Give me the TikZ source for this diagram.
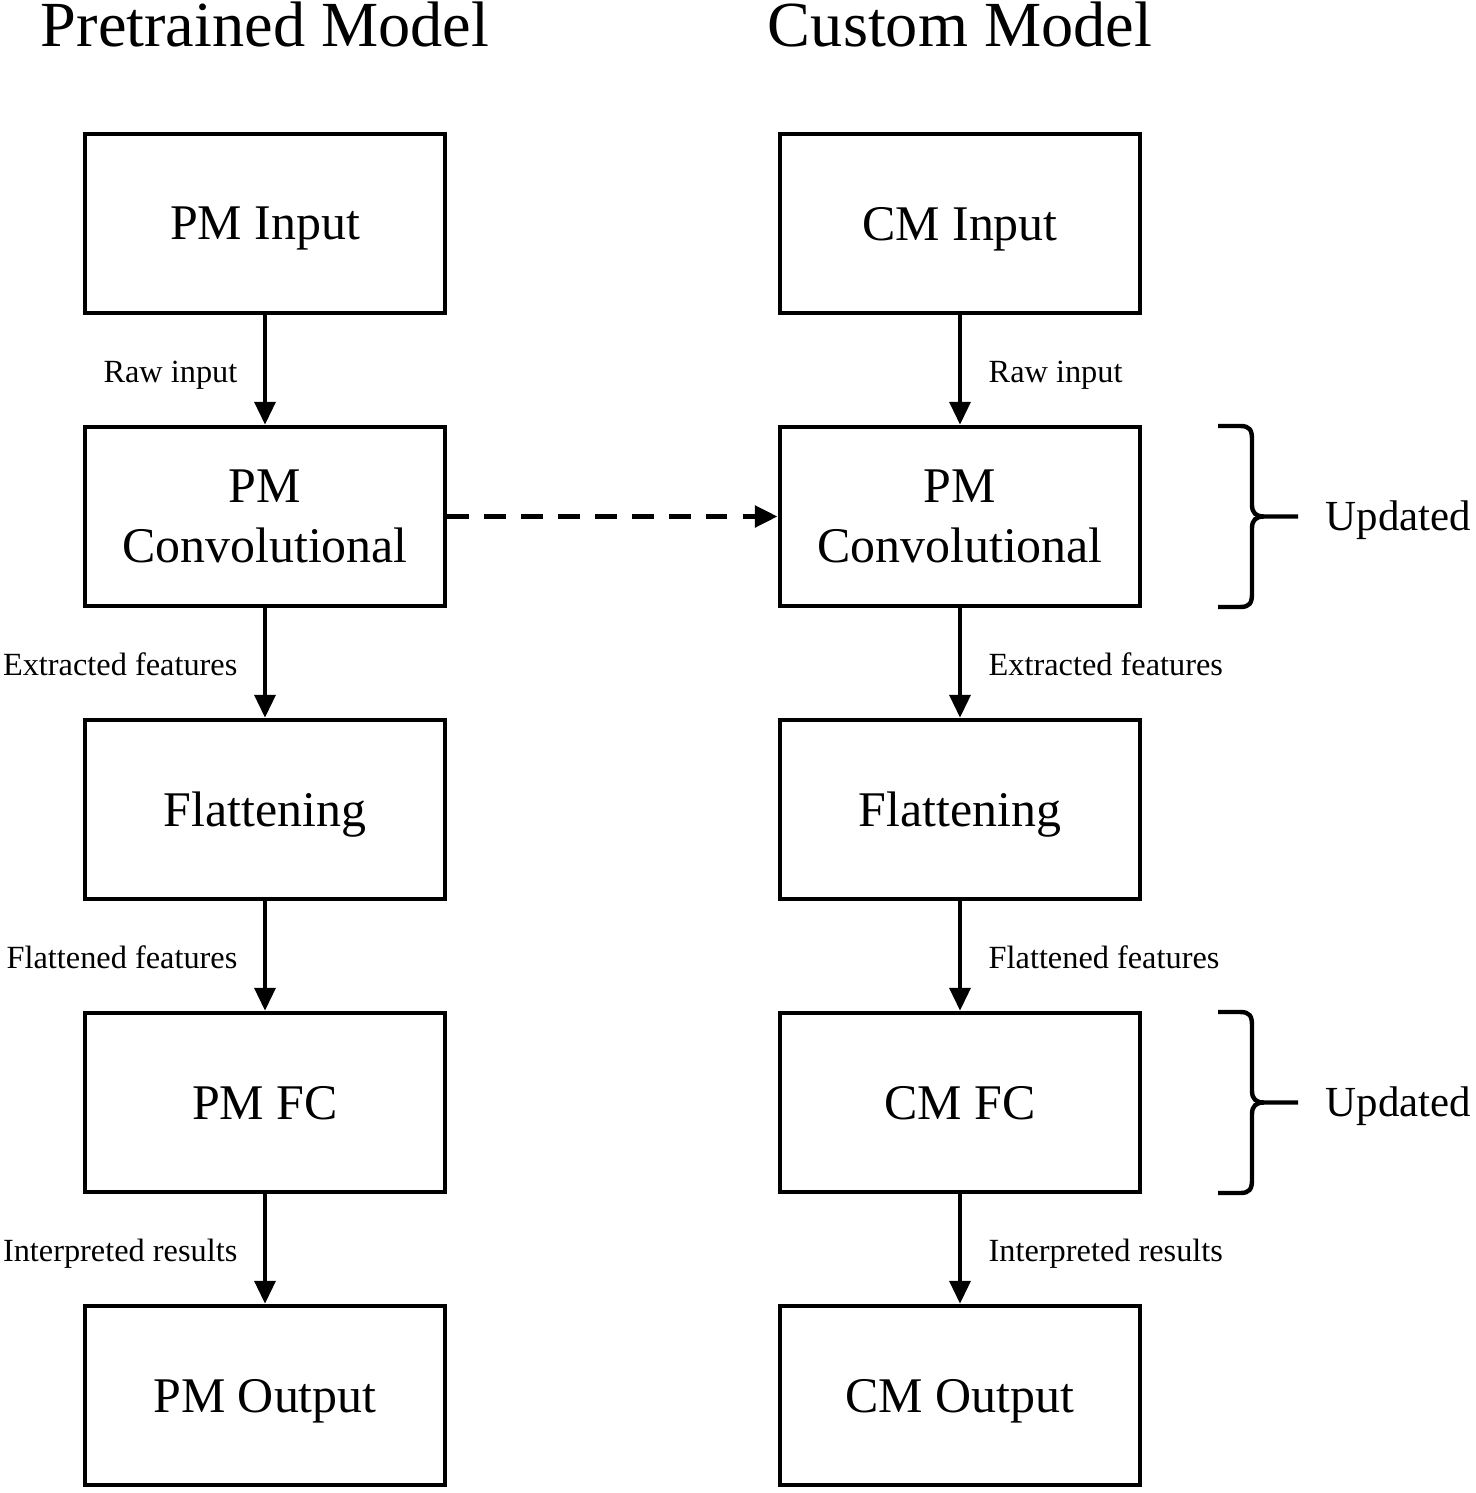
\documentclass[tikz,border=0pt]{standalone}
\usepackage{fontspec}
\setmainfont{Liberation Serif}
\usetikzlibrary{arrows.meta,positioning}

\tikzset{
  block/.style={rectangle, draw, line width=1.35pt, minimum width=3.60cm, minimum height=1.79cm, align=center, inner sep=0pt, text depth=0pt, font=\fontsize{14.2}{17}\selectfont},
  title/.style={anchor=base, inner sep=0pt, font=\fontsize{18.3}{22}\selectfont},
  flow/.style={-{Triangle[length=6.5pt,width=6pt]}, line width=0.95pt},
  copyflow/.style={-{Triangle[length=6.5pt,width=6pt]}, line width=1.5pt, dash pattern=on 6.2pt off 4.3pt},
  llbl/.style={anchor=base east, inner sep=0pt, xshift=-0.26cm, yshift=-0.12cm, font=\fontsize{9.2}{11}\selectfont},
  rlbl/.style={anchor=base west, inner sep=0pt, xshift=0.27cm, yshift=-0.12cm, font=\fontsize{9.2}{11}\selectfont},
  brace/.style={line width=1.25pt},
  note/.style={anchor=base west, inner sep=0pt, font=\fontsize{12.2}{15}\selectfont}
}

\begin{document}
\begin{tikzpicture}
        \useasboundingbox (0,0) rectangle (14.76,-14.93);

        % Titles
        \node[title] at (2.65,-0.47) (ptitle) {Pretrained Model};
        \node[title] at (9.60,-0.47) (ctitle) {Custom Model};

        % Pretrained model blocks
        \node[block] at (2.65,-2.235) (pin) {PM Input};
        \node[block] at (2.65,-5.165) (pconv) {PM\\Convolutional};
        \node[block] at (2.65,-8.095) (pflat) {Flattening};
        \node[block] at (2.65,-11.025) (pfc) {PM FC};
        \node[block] at (2.65,-13.955) (pout) {PM Output};

        % Custom model blocks
        \node[block] at (9.60,-2.235) (cin) {CM Input};
        \node[block] at (9.60,-5.165) (cconv) {PM\\Convolutional};
        \node[block] at (9.60,-8.095) (cflat) {Flattening};
        \node[block] at (9.60,-11.025) (cfc) {CM FC};
        \node[block] at (9.60,-13.955) (cout) {CM Output};

        % Arrows
        \draw[flow] (pin) -- node[llbl] (praw) {Raw input} (pconv);
        \draw[flow] (pconv) -- node[llbl] (pext) {Extracted features} (pflat);
        \draw[flow] (pflat) -- node[llbl] (pfeat) {Flattened features} (pfc);
        \draw[flow] (pfc) -- node[llbl] (pres) {Interpreted results} (pout);

        \draw[flow] (cin) -- node[rlbl] (craw) {Raw input} (cconv);
        \draw[flow] (cconv) -- node[rlbl] (cext) {Extracted features} (cflat);
        \draw[flow] (cflat) -- node[rlbl] (cfeat) {Flattened features} (cfc);
        \draw[flow] (cfc) -- node[rlbl] (cres) {Interpreted results} (cout);

        \draw[copyflow] (pconv) -- (cconv);

        % Braces
        \draw[brace] (12.18,-4.26) -- (12.40,-4.26) .. controls (12.50,-4.26) and (12.52,-4.30) .. (12.52,-4.40)
            -- (12.52,-5.05) .. controls (12.52,-5.13) and (12.56,-5.165) .. (12.64,-5.165) -- (12.98,-5.165);
        \draw[brace] (12.64,-5.165) .. controls (12.56,-5.165) and (12.52,-5.20) .. (12.52,-5.28)
            -- (12.52,-5.93) .. controls (12.52,-6.03) and (12.50,-6.07) .. (12.40,-6.07) -- (12.18,-6.07);
        \node[note] at (13.25,-5.30) (cupd) {Updated};

        \draw[brace] (12.18,-10.12) -- (12.40,-10.12) .. controls (12.50,-10.12) and (12.52,-10.16) .. (12.52,-10.26)
            -- (12.52,-10.91) .. controls (12.52,-10.99) and (12.56,-11.025) .. (12.64,-11.025) -- (12.98,-11.025);
        \draw[brace] (12.64,-11.025) .. controls (12.56,-11.025) and (12.52,-11.06) .. (12.52,-11.14)
            -- (12.52,-11.79) .. controls (12.52,-11.89) and (12.50,-11.93) .. (12.40,-11.93) -- (12.18,-11.93);
        \node[note] at (13.25,-11.16) (fupd) {Updated};

    \end{tikzpicture}
\end{document}
